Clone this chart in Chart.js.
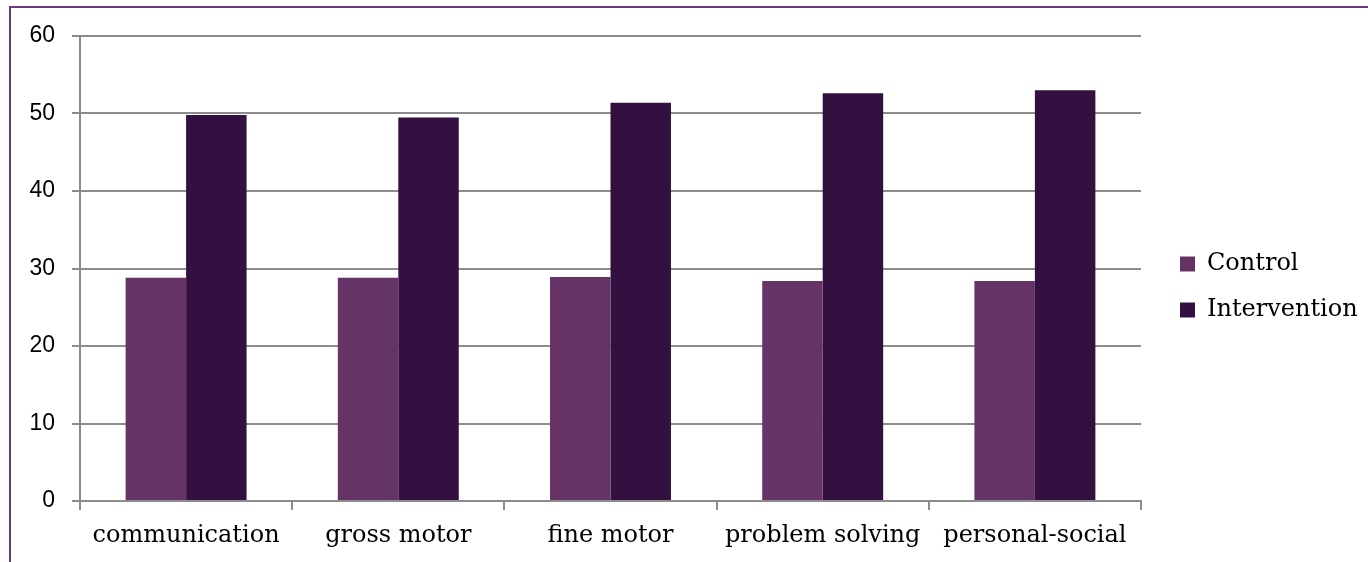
<!DOCTYPE html>
<html>
<head>
<meta charset="utf-8">
<title>ASQ domain scores</title>
<script src="https://cdn.jsdelivr.net/npm/chart.js@4"></script>
<style>
  html, body { margin: 0; padding: 0; background: #fff; overflow: hidden; }
  #wrap { position: relative; width: 1368px; height: 562px; }
  #frame { position: absolute; left: 9px; top: 6px; right: -20px; bottom: -20px; border: 2px solid #6b3a7b; }
  canvas { position: absolute; left: 0; top: 0; }
</style>
</head>
<body>
<div id="wrap">
  <div id="frame"></div>
  <canvas id="c" width="1368" height="562"></canvas>
</div>
<script>
// Domain mean scores per group
const categories = ['communication', 'gross motor', 'fine motor', 'problem solving', 'personal-social'];
const controlScores = [28.8, 28.8, 28.9, 28.4, 28.4];
const interventionScores = [49.8, 49.5, 51.4, 52.6, 53.0];
const seriesNames = ['Control', 'Intervention'];
const yTicks = { min: 0, max: 60, step: 10 };

const GRID = '#8c8c8c';

// Fixes the sizes of the axis and legend boxes so the plot area sits where intended
const layoutFix = {
  id: 'layoutFix',
  beforeLayout(chart) {
    const lg = chart.legend;
    if (lg && !lg._fixedWidth) {
      const fit = lg.fit;
      lg.fit = function () { fit.call(this); this.width = 227; };
      lg._fixedWidth = true;
    }
  },
  afterLayout(chart) {
    const lg = chart.legend;
    if (!lg) return;
    lg.left += 17; lg.right += 17;
    lg.top -= 12; lg.bottom -= 12;
  }
};

new Chart(document.getElementById('c'), {
  type: 'bar',
  data: {
    labels: categories,
    datasets: [
      { label: seriesNames[0], data: controlScores, backgroundColor: '#663366', borderWidth: 0 },
      { label: seriesNames[1], data: interventionScores, backgroundColor: '#341040', borderWidth: 0 }
    ]
  },
  options: {
    responsive: false,
    animation: false,
    devicePixelRatio: 1,
    layout: { padding: { top: 36, left: 0, right: 0, bottom: 0 } },
    datasets: { bar: { categoryPercentage: 0.57, barPercentage: 1.0 } },
    plugins: {
      tooltip: { enabled: false },
      legend: {
        position: 'right',
        align: 'center',
        labels: {
          boxWidth: 15,
          boxHeight: 15,
          padding: 22,
          color: '#000',
          font: { family: '"DejaVu Serif", serif', size: 24 }
        }
      }
    },
    scales: {
      x: {
        grid: {
          offset: true,
          drawOnChartArea: false,
          drawTicks: true,
          tickLength: 9,
          color: GRID,
          lineWidth: 2
        },
        border: { display: true, color: GRID, width: 2 },
        ticks: {
          color: '#000',
          padding: 11,
          maxRotation: 0,
          autoSkip: false,
          font: { family: '"DejaVu Serif", serif', size: 24 }
        },
        afterFit(scale) { scale.height = 61; }
      },
      y: {
        min: yTicks.min,
        max: yTicks.max,
        grid: { color: GRID, lineWidth: 2, tickLength: 8, drawTicks: true },
        border: { display: true, color: GRID, width: 2 },
        ticks: {
          stepSize: yTicks.step,
          color: '#000',
          padding: 17,
          font: { family: '"Liberation Sans", Arial, sans-serif', size: 23 }
        },
        afterFit(scale) { scale.width = 80; }
      }
    }
  },
  plugins: [layoutFix]
});
</script>
</body>
</html>
